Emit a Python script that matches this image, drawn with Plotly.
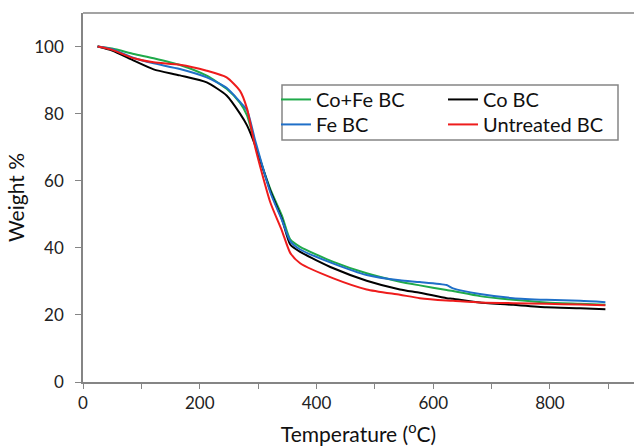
import plotly.graph_objects as go

temperature = [25, 50, 87, 121, 166, 212, 246, 269, 281, 295, 321, 341, 355, 372,
               429, 486, 543, 577, 623, 634, 680, 737, 794, 852, 895]

co_fe_bc = [100, 99.4, 97.8, 96.5, 94.5, 91.3, 87.4, 83.2, 79.5, 71, 57.5, 49.5, 42.5, 40.3,
            35.8, 32.4, 29.9, 28.8, 27.4, 27.1, 25.6, 24.5, 23.7, 23.3, 23.0]
co_bc = [100, 98.8, 95.8, 93.2, 91.4, 89.3, 85.4, 80, 76.5, 70.5, 57, 48.5, 41, 38.8,
         33.9, 30.2, 27.6, 26.6, 25, 24.8, 23.7, 23, 22.3, 22, 21.7]
fe_bc = [100, 99.2, 96.6, 95, 93.3, 90.8, 87.7, 83.5, 81, 72, 56.5, 48.2, 42, 39.5,
         35.3, 31.9, 30.3, 29.8, 28.9, 27.9, 26.2, 25, 24.5, 24.2, 23.8]
untreated_bc = [100, 99, 96.5, 95.3, 94.6, 92.8, 90.8, 86.8, 81.5, 70, 53.5, 45, 38.5, 35.4,
                30.9, 27.6, 26, 25, 24.3, 24.2, 23.7, 23.5, 23.3, 23.1, 22.9]

series = [
    ("Co+Fe BC", co_fe_bc, "#1faa4a"),
    ("Co BC", co_bc, "#000000"),
    ("Fe BC", fe_bc, "#1f6fc8"),
    ("Untreated BC", untreated_bc, "#ee1c1c"),
]

axis_color = "#858585"
font = "Lato, 'Open Sans', sans-serif"
legend_font = dict(size=20, family=font, color="#111111")

# plot area in pixels: left 83, right 634, top 13, bottom 382.3
def px_x(p):
    return (p - 83) / 551.0

def px_y(p):
    return (382.3 - p) / 369.3

# legend slot (left px, top px) for each series, in a 2x2 grid
legend_slots = [(276, 80), (443, 80), (276, 105), (443, 105)]

fig = go.Figure()
legend_layout = {}
for i, (name, vals, color) in enumerate(series):
    key = "legend" if i == 0 else f"legend{i + 1}"
    fig.add_trace(go.Scatter(x=temperature, y=vals, name=name, mode="lines", legend=key,
                             line=dict(color=color, width=2, shape="spline", smoothing=0.6)))
    lx, ly = legend_slots[i]
    legend_layout[key] = dict(orientation="v", x=px_x(lx), y=px_y(ly), xanchor="left",
                              yanchor="top", borderwidth=0, bgcolor="rgba(0,0,0,0)",
                              font=legend_font, tracegroupgap=0, itemwidth=30)

fig.update_layout(
    width=634, height=446,
    margin=dict(l=83, r=0, t=13, b=64),
    paper_bgcolor="white", plot_bgcolor="white",
    font=dict(family=font, color="#222222"),
    showlegend=True,
    shapes=[dict(type="rect", xref="paper", yref="paper",
                 x0=px_x(282), x1=px_x(618), y0=px_y(140), y1=px_y(85),
                 line=dict(color=axis_color, width=1.5), fillcolor="white", layer="above"),
            dict(type="line", xref="paper", yref="paper", x0=0, x1=1, y0=1, y1=1,
                 line=dict(color=axis_color, width=1.5))],
    xaxis=dict(range=[0, 944], dtick=200, tick0=0, ticks="outside", ticklen=5,
               tickcolor=axis_color, showline=True, linecolor=axis_color, linewidth=1.5,
               showgrid=False, zeroline=False, automargin=False,
               ticklabelstandoff=0,
               minor=dict(dtick=100, ticks="outside", ticklen=5, tickcolor=axis_color),
               tickfont=dict(size=17, family=font, color="#222222"),
               title=dict(text="Temperature (<sup>o</sup>C)", font=dict(size=21, family=font, color="#111111"),
                          standoff=17)),
    yaxis=dict(range=[0, 110], dtick=20, tick0=0, ticks="outside", ticklen=6,
               tickcolor=axis_color, showline=True, linecolor=axis_color, linewidth=1.5,
               showgrid=False, zeroline=False, automargin=False,
               ticklabelstandoff=8,
               tickfont=dict(size=17, family=font, color="#222222"),
               title=dict(text="Weight %", font=dict(size=21, family=font, color="#111111"),
                          standoff=4)),
    **legend_layout,
)

fig.write_html("out.html", config={"displayModeBar": False},
               post_script="document.body.style.margin='0';"
                           "document.body.style.overflow='hidden';"
                           "document.documentElement.style.overflow='hidden';")
